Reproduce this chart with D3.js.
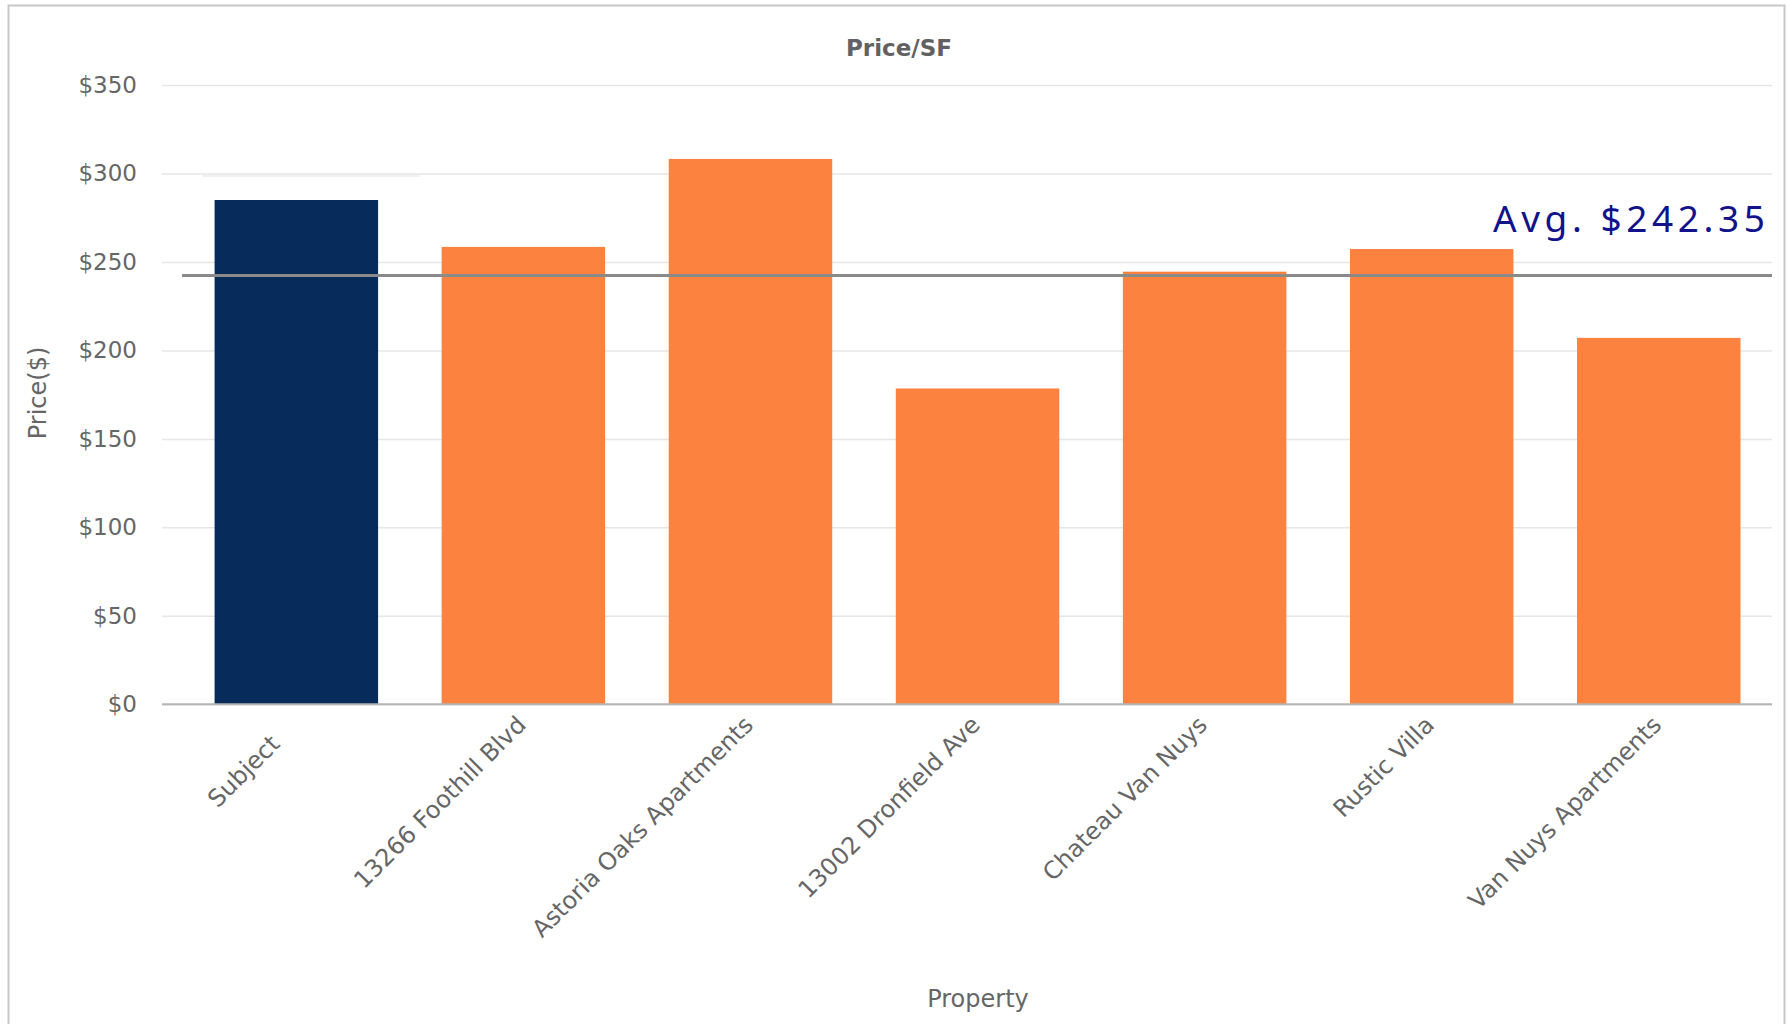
<!DOCTYPE html>
<html>
<head>
<meta charset="utf-8">
<script src="https://cdn.jsdelivr.net/npm/d3@7/dist/d3.min.js"></script>
<style>
  html, body { margin: 0; padding: 0; background: #fff; }
  svg { display: block; }
</style>
</head>
<body>
<svg id="chart" width="1787" height="1024"></svg>
<script>
// ---- data ----
const chartTitle = "Price/SF";
const yAxisTitle = "Price($)";
const xAxisTitle = "Property";
const categories = [
  "Subject",
  "13266 Foothill Blvd",
  "Astoria Oaks Apartments",
  "13002 Dronfield Ave",
  "Chateau Van Nuys",
  "Rustic Villa",
  "Van Nuys Apartments"
];
const pricePerSF = [285, 258.5, 308.2, 178.5, 244.5, 257.3, 207.1];
const yTicks = [0, 50, 100, 150, 200, 250, 300, 350];
const averageValue = 242.35;
const averageLabel = "Avg. $242.35";

// ---- layout / style ----
const plotLeft = 162, plotRight = 1772;
const yBottom = 704.3, yTop = 85;
const navy = "#072b5b", orange = "#fc8240";
const textGray = "#666666";
const font = "'DejaVu Sans', sans-serif";

const svg = d3.select("#chart");

// outer border
svg.append("rect")
  .attr("x", 8.5).attr("y", 5.5)
  .attr("width", 1776).attr("height", 1030)
  .attr("fill", "none").attr("stroke", "#c8c8c8").attr("stroke-width", 2);

const y = d3.scaleLinear().domain([0, 350]).range([yBottom, yTop]);
const x = d3.scaleBand().domain(categories)
  .range([182.8, 1772.3]).paddingInner(0.28).paddingOuter(0.14);

// y gridlines + labels
const yAxis = d3.axisLeft(y)
  .tickValues(yTicks)
  .tickFormat(d => "$" + d)
  .tickSize(-(plotRight - plotLeft))
  .tickPadding(25);
const yg = svg.append("g").attr("transform", `translate(${plotLeft},0)`).call(yAxis);
yg.select(".domain").remove();
yg.selectAll(".tick line").attr("stroke", "#e6e6e6").attr("stroke-width", 1.5);
yg.selectAll(".tick text")
  .attr("font-family", font).attr("font-size", 23).attr("fill", textGray)
  .attr("dy", "0.32em");

// faint decoration line above subject
svg.append("line")
  .attr("x1", x(categories[0]) - 12).attr("x2", x(categories[0]) + 205)
  .attr("y1", 176).attr("y2", 176)
  .attr("stroke", "#efefef").attr("stroke-width", 2);

// bars
svg.append("g").selectAll("rect")
  .data(categories)
  .join("rect")
  .attr("x", d => x(d))
  .attr("width", x.bandwidth())
  .attr("y", (d, i) => y(pricePerSF[i]))
  .attr("height", (d, i) => y(0) - y(pricePerSF[i]))
  .attr("fill", (d, i) => i === 0 ? navy : orange);

// baseline
svg.append("line")
  .attr("x1", plotLeft).attr("x2", plotRight)
  .attr("y1", y(0)).attr("y2", y(0))
  .attr("stroke", "#b5b5b5").attr("stroke-width", 2);

// x axis labels
const xAxis = d3.axisBottom(x).tickSize(0);
const xg = svg.append("g").attr("transform", `translate(0,${y(0)})`).call(xAxis);
xg.select(".domain").remove();
xg.selectAll(".tick text")
  .attr("font-family", font).attr("font-size", 24).attr("fill", textGray)
  .attr("text-anchor", "end")
  .attr("x", 0).attr("y", 0).attr("dy", 0)
  .attr("dx", (d, i) => i === 0 ? -27 : 0)
  .attr("transform", "translate(4,22) rotate(-45)");

// average line
svg.append("line")
  .attr("x1", 182).attr("x2", plotRight)
  .attr("y1", y(averageValue)).attr("y2", y(averageValue))
  .attr("stroke", "#8a8a8a").attr("stroke-width", 3);

svg.append("text")
  .attr("x", 1493).attr("y", 231.5)
  .attr("font-family", "'Noto Sans', sans-serif")
  .attr("font-size", 37)
  .attr("fill", "#12128a")
  .attr("textLength", 272)
  .attr("lengthAdjust", "spacing")
  .text(averageLabel);

// title
svg.append("text")
  .attr("x", 899).attr("y", 56)
  .attr("text-anchor", "middle")
  .attr("font-family", font).attr("font-size", 23).attr("font-weight", "bold")
  .attr("fill", "#616161")
  .text(chartTitle);

// y axis title
svg.append("text")
  .attr("transform", "translate(46,393) rotate(-90)")
  .attr("text-anchor", "middle")
  .attr("font-family", font).attr("font-size", 24)
  .attr("fill", textGray)
  .text(yAxisTitle);

// x axis title
svg.append("text")
  .attr("x", 978).attr("y", 1007)
  .attr("text-anchor", "middle")
  .attr("font-family", font).attr("font-size", 24)
  .attr("fill", textGray)
  .text(xAxisTitle);
</script>
</body>
</html>
